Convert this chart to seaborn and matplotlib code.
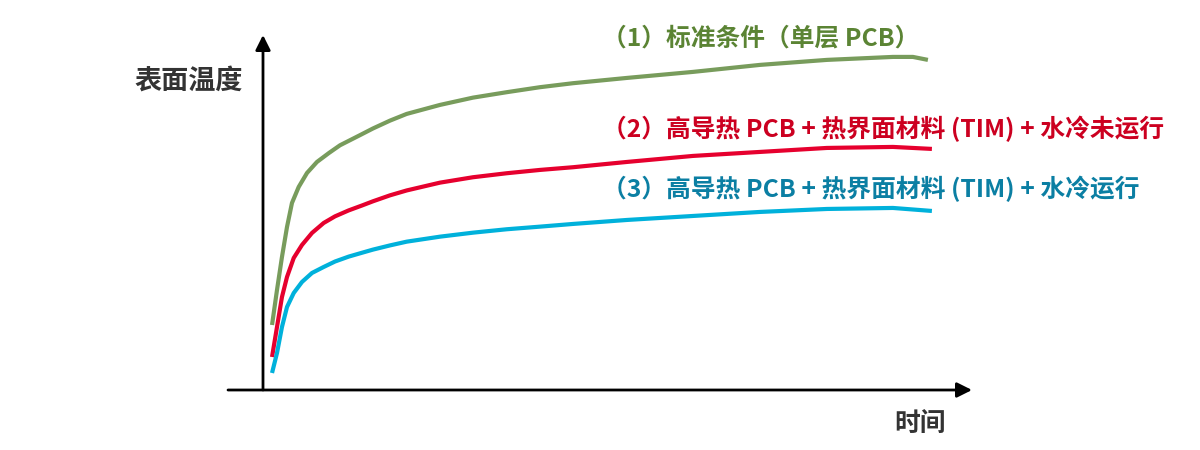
import numpy as np
import pandas as pd
import matplotlib
matplotlib.use('Agg')
import matplotlib.pyplot as plt
import seaborn as sns

# values (arbitrary units: time 0..100, temperature 0..100)
green_time = [1.29, 2.00, 2.71, 3.43, 4.14, 5.10, 6.29, 7.71, 9.43, 11.00, 13.86, 15.71, 18.14, 20.53,
              25.29, 30.00, 34.81, 39.57, 44.29, 52.0, 61.43, 71.0, 80.57, 90.0, 92.86, 95.0]
green_temp = [18.57, 28.57, 38.00, 46.57, 53.43, 58.00, 62.00, 65.14, 67.71, 69.90, 72.80, 74.70, 76.94, 78.86,
              81.43, 83.51, 85.06, 86.49, 87.63, 89.14, 90.86, 92.86, 94.29, 95.14, 95.14, 94.29]

red_time = [1.29, 2.00, 2.71, 3.43, 4.39, 5.57, 7.00, 8.67, 10.29, 12.24, 14.14, 15.71, 18.14, 20.53,
            25.29, 30.00, 34.81, 39.57, 44.29, 52.0, 61.43, 71.0, 80.57, 90.0, 95.57]
red_temp = [9.43, 18.00, 26.57, 32.29, 37.71, 41.43, 44.86, 47.71, 49.60, 51.30, 52.70, 53.90, 55.60, 57.00,
            59.23, 60.77, 61.91, 62.86, 63.63, 65.14, 66.86, 68.0, 69.14, 69.43, 68.86]

blue_time = [1.29, 2.00, 2.71, 3.43, 4.39, 5.57, 7.00, 8.67, 10.29, 12.24, 14.14, 15.71, 18.14, 20.53,
             25.29, 30.00, 34.81, 39.57, 44.29, 52.0, 61.43, 71.0, 80.57, 90.0, 95.57]
blue_temp = [4.86, 10.57, 18.00, 23.71, 27.71, 30.86, 33.43, 35.14, 36.70, 38.10, 39.20, 40.10, 41.30, 42.37,
             43.80, 44.94, 45.91, 46.66, 47.43, 48.57, 49.71, 50.86, 51.71, 52.0, 51.14]

labels = ['（1）标准条件（单层 PCB）',
          '（2）高导热 PCB + 热界面材料 (TIM) + 水冷未运行',
          '（3）高导热 PCB + 热界面材料 (TIM) + 水冷运行']
line_colors = ['#789c5c', '#e6002e', '#00b1db']
text_colors = ['#5b8434', '#cc0020', '#0b7fa3']

sns.set_style('white')
plt.rcParams['font.family'] = ['Noto Sans CJK SC', 'DejaVu Sans']

frames = []
for name, t, v in zip(labels, [green_time, red_time, blue_time], [green_temp, red_temp, blue_temp]):
    frames.append(pd.DataFrame({'time': t, 'temp': v, 'series': name}))
df = pd.concat(frames, ignore_index=True)

fig = plt.figure(figsize=(12, 4.5), dpi=100)
# axes from the origin (263, 390 px) to the arrow tips
ax = fig.add_axes([263 / 1200, 60 / 450, 709 / 1200, 355 / 450])
sns.lineplot(data=df, x='time', y='temp', hue='series', palette=dict(zip(labels, line_colors)),
             estimator=None, sort=False, legend=False, linewidth=3.0, ax=ax)
for l in ax.get_lines():
    l.set_solid_capstyle('butt')
    l.set_solid_joinstyle('round')

ax.set_xlim(0, 101.3)
ax.set_ylim(0, 101.4)
ax.set_xticks([])
ax.set_yticks([])
ax.set_xlabel('')
ax.set_ylabel('')
for s in ax.spines.values():
    s.set_visible(False)

# axis arrows
arrow = dict(arrowstyle='-|>,head_length=0.9,head_width=0.45', color='black', lw=2, shrinkA=0, shrinkB=0)
ax.annotate('', xy=(0, 1), xytext=(0, 0), xycoords='axes fraction', arrowprops=arrow, annotation_clip=False)
ax.annotate('', xy=(1, 0), xytext=(-35 / 709, 0), xycoords='axes fraction', arrowprops=arrow, annotation_clip=False)

# series labels
for name, c, y in zip(labels, text_colors, [100.3, 74.6, 57.4]):
    ax.text(48.5, y, name, color=c, fontsize=17.8, fontweight='bold', ha='left', va='center', clip_on=False)

fig.text(189 / 1200, 1 - 81 / 450, '表面温度', fontsize=19.5, fontweight='bold', color='#333333', ha='center', va='center')
fig.text(920 / 1200, 1 - 424 / 450, '时间', fontsize=18.5, fontweight='bold', color='#333333', ha='center', va='center')

fig.savefig('out.png', dpi=100, facecolor='white')
